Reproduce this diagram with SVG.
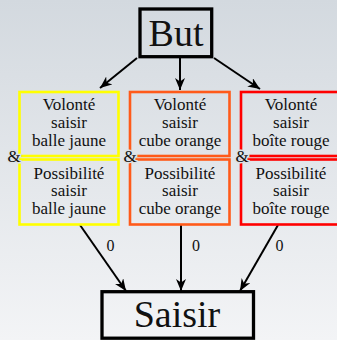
<svg xmlns="http://www.w3.org/2000/svg" width="337" height="340" viewBox="0 0 337 340" font-family="Liberation Serif, Times New Roman, Times, serif">
<defs>
<linearGradient id="bg" x1="0" y1="0" x2="0" y2="1">
<stop offset="0" stop-color="#d3d9df"/>
<stop offset="1" stop-color="#f3f4f6"/>
</linearGradient>
<marker id="ah" viewBox="0 0 12 10" refX="12" refY="5" markerWidth="12" markerHeight="10" markerUnits="userSpaceOnUse" orient="auto">
<path d="M0,0 L12,5 L0,10 L3.5,5 Z" fill="#000"/>
</marker>
<style>
text{fill:#111;text-anchor:middle}
.box{fill:none;stroke-width:2.6}
.y{stroke:#ffff00}.o{stroke:#ff5a1a}.r{stroke:#ff0000}
.big{fill:none;stroke:#000;stroke-width:3.3}
.t{font-size:17px}
.amp{font-size:17px;stroke:#dde2e6;stroke-width:3;paint-order:stroke}
.z{font-size:16px}
.c{stroke:#000;stroke-width:2;fill:none;marker-end:url(#ah)}
</style>
</defs>
<rect width="337" height="340" fill="url(#bg)"/>
<g id="connectors">
<line class="c" x1="137" y1="58" x2="100" y2="88"/>
<line class="c" x1="180" y1="58" x2="180" y2="90"/>
<line class="c" x1="214" y1="58" x2="260" y2="89"/>
<line class="c" x1="80" y1="225" x2="126" y2="291"/>
<line class="c" x1="181" y1="225" x2="181" y2="291"/>
<line class="c" x1="278" y1="225" x2="240" y2="291"/>
<text class="z" x="110.5" y="251">0</text>
<text class="z" x="196" y="251">0</text>
<text class="z" x="279.5" y="251">0</text>
</g>
<g id="but">
<rect class="big" x="140" y="9" width="71.7" height="47.7"/>
<text x="176" y="46" font-size="38">But</text>
</g>
<g id="jaune">
<rect class="box y" x="19.5" y="92" width="99" height="64"/>
<rect class="box y" x="19.5" y="159.5" width="99" height="65"/>
<text class="t" x="69" y="110">Volonté</text>
<text class="t" x="69" y="128">saisir</text>
<text class="t" x="69" y="145.5">balle jaune</text>
<text class="t" x="69" y="178.5">Possibilité</text>
<text class="t" x="69" y="196">saisir</text>
<text class="t" x="69" y="213.5">balle jaune</text>
<text class="amp" x="14" y="161.5">&amp;</text>
</g>
<g id="orange">
<rect class="box o" x="130" y="92" width="99.5" height="64"/>
<rect class="box o" x="130" y="159.5" width="99.5" height="65"/>
<text class="t" x="180" y="110">Volonté</text>
<text class="t" x="180" y="128">saisir</text>
<text class="t" x="180" y="145.5">cube orange</text>
<text class="t" x="180" y="178.5">Possibilité</text>
<text class="t" x="180" y="196">saisir</text>
<text class="t" x="180" y="213.5">cube orange</text>
<text class="amp" x="130" y="161.5">&amp;</text>
</g>
<g id="rouge">
<rect class="box r" x="241" y="92" width="100" height="64"/>
<rect class="box r" x="241" y="159.5" width="100" height="65"/>
<text class="t" x="291" y="110">Volonté</text>
<text class="t" x="291" y="128">saisir</text>
<text class="t" x="291" y="145.5">boîte rouge</text>
<text class="t" x="291" y="178.5">Possibilité</text>
<text class="t" x="291" y="196">saisir</text>
<text class="t" x="291" y="213.5">boîte rouge</text>
<text class="amp" x="242" y="161.5">&amp;</text>
</g>
<g id="saisir">
<rect class="big" x="102" y="291.7" width="151.5" height="46.5"/>
<text x="177" y="327" font-size="38">Saisir</text>
</g>
</svg>
